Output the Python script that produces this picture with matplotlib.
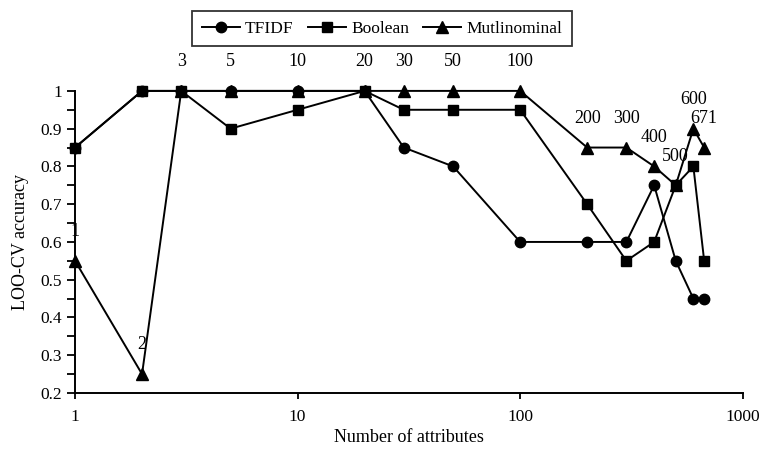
import matplotlib
matplotlib.use('Agg')
import matplotlib.pyplot as plt
from matplotlib.ticker import FixedLocator, NullLocator

plt.rcParams['font.family'] = ['Liberation Serif', 'DejaVu Serif']

# Number of attributes and LOO-CV accuracy per model
n_attr = [1, 2, 3, 5, 10, 20, 30, 50, 100, 200, 300, 400, 500, 600, 671]
tfidf = [0.85, 1.0, 1.0, 1.0, 1.0, 1.0, 0.85, 0.8, 0.6, 0.6, 0.6, 0.75, 0.55, 0.45, 0.45]
boolean = [0.85, 1.0, 1.0, 0.9, 0.95, 1.0, 0.95, 0.95, 0.95, 0.7, 0.55, 0.6, 0.75, 0.8, 0.55]
multinom = [0.55, 0.25, 1.0, 1.0, 1.0, 1.0, 1.0, 1.0, 1.0, 0.85, 0.85, 0.8, 0.75, 0.9, 0.85]
point_labels = [str(n) for n in n_attr]

x_ticks = [1, 10, 100, 1000]
x_ticklabels = ['1', '10', '100', '1000']
y_ticks = [0.2, 0.3, 0.4, 0.5, 0.6, 0.7, 0.8, 0.9, 1.0]
y_ticklabels = ['0.2', '0.3', '0.4', '0.5', '0.6', '0.7', '0.8', '0.9', '1']
y_minor = [0.25, 0.35, 0.45, 0.55, 0.65, 0.75, 0.85, 0.95]

fig = plt.figure(figsize=(7.61, 4.5), dpi=100)
ax = fig.add_axes([0.0986, 0.1267, 0.8774, 0.6713])

style = dict(color='black', linewidth=1.4, clip_on=False)
ax.plot(n_attr, tfidf, marker='o', markersize=7.5, label='TFIDF', **style)
ax.plot(n_attr, boolean, marker='s', markersize=7.5, label='Boolean', **style)
ax.plot(n_attr, multinom, marker='^', markersize=8.5, label='Mutlinominal', **style)

# number-of-attributes labels above the multinomial points
for x, y, t in zip(n_attr, multinom, point_labels):
    ax.annotate(t, (x, y), xytext=(0, 21), textcoords='offset points',
                ha='center', va='center', fontsize=13, annotation_clip=False)

ax.set_xscale('log')
ax.set_xlim(1, 1000)
ax.set_ylim(0.2, 1.0)
ax.xaxis.set_major_locator(FixedLocator(x_ticks))
ax.xaxis.set_minor_locator(NullLocator())
ax.set_xticklabels(x_ticklabels)
ax.yaxis.set_major_locator(FixedLocator(y_ticks))
ax.yaxis.set_minor_locator(FixedLocator(y_minor))
ax.set_yticklabels(y_ticklabels)

ax.tick_params(axis='x', direction='out', length=4.5, width=1.3, labelsize=12.5, pad=7)
ax.tick_params(axis='y', which='major', direction='out', length=6, width=1.3, labelsize=12.5)
ax.tick_params(axis='y', which='minor', direction='out', length=6, width=1.3)

for side in ['top', 'right']:
    ax.spines[side].set_visible(False)
for side in ['left', 'bottom']:
    ax.spines[side].set_linewidth(1.4)

ax.set_xlabel('Number of attributes', fontsize=13, labelpad=3)
ax.set_ylabel('LOO-CV accuracy', fontsize=13, labelpad=8)

leg = fig.legend(loc='upper center', bbox_to_anchor=(0.502, 0.995), ncol=3,
                 fontsize=12.5, frameon=True, fancybox=False, edgecolor='black',
                 handlelength=2.2, handletextpad=0.3, columnspacing=0.8,
                 borderpad=0.55)
leg.get_frame().set_linewidth(1.3)

fig.savefig('out.png', dpi=100)
